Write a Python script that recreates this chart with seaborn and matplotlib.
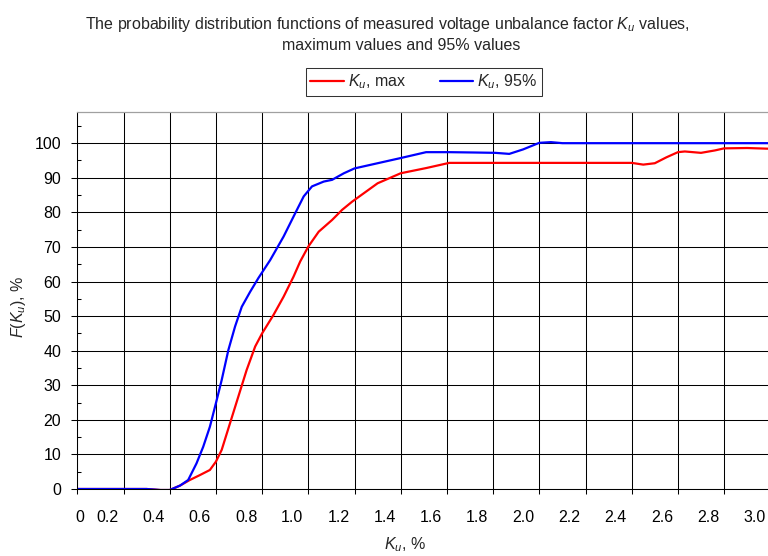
import numpy as np
import pandas as pd
import matplotlib
matplotlib.use("Agg")
import matplotlib.pyplot as plt
import seaborn as sns

# ---------------- data ----------------
title_line1 = "The probability distribution functions of measured voltage unbalance factor $K_u$ values,"
title_line2 = "maximum values and 95% values"
series_names = ["$K_u$, max", "$K_u$, 95%"]
series_colors = ["#ff0000", "#0000ff"]

# x positions measured in grid units (one vertical grid line every 0.2)
x_max = [0, 0.30, 0.36, 0.40, 0.445, 0.487, 0.53, 0.574, 0.60, 0.625, 0.661, 0.697,
         0.733, 0.77, 0.80, 0.849, 0.893, 0.936, 0.965, 1.0, 1.045, 1.103, 1.146,
         1.19, 1.30, 1.40, 1.51, 1.57, 1.61, 2.40, 2.45, 2.50, 2.55, 2.60, 2.63,
         2.70, 2.76, 2.80, 2.90, 2.99]
y_max = [0, 0, -0.3, -0.3, 1.0, 2.6, 4.0, 5.5, 7.9, 11.3, 19.0, 26.7,
         34.4, 41.2, 45.0, 50.3, 55.6, 61.4, 65.8, 70.1, 74.4, 77.8, 80.7,
         83.1, 88.4, 91.3, 92.8, 93.7, 94.3, 94.3, 93.8, 94.2, 95.9, 97.4, 97.6,
         97.2, 97.9, 98.5, 98.6, 98.4]

x_95 = [0, 0.30, 0.36, 0.40, 0.445, 0.48, 0.516, 0.545, 0.574, 0.60, 0.625, 0.654,
        0.683, 0.712, 0.748, 0.784, 0.835, 0.893, 0.943, 0.98, 1.016, 1.067, 1.103,
        1.154, 1.20, 1.30, 1.40, 1.51, 1.61, 1.72, 1.81, 1.87, 1.93, 2.00, 2.05,
        2.10, 2.99]
y_95 = [0, 0, -0.3, -0.3, 1.0, 2.6, 7.4, 12.2, 18.0, 24.8, 31.5, 40.2,
        47.0, 52.7, 57.0, 61.0, 66.2, 73.0, 79.7, 84.6, 87.5, 88.9, 89.4,
        91.3, 92.7, 94.2, 95.7, 97.4, 97.4, 97.3, 97.2, 96.9, 98.2, 100.1, 100.3,
        100.0, 100.0]

xtick_labels = ["0", "0.2", "0.4", "0.6", "0.8", "1.0", "1.2", "1.4", "1.6",
                "1.8", "2.0", "2.2", "2.4", "2.6", "2.8", "3.0"]
ytick_values = [0, 10, 20, 30, 40, 50, 60, 70, 80, 90, 100]
x_label = "$K_u$, %"
y_label = "$F$($K_u$), %"

# ---------------- styling ----------------
sns.set_theme(style="white")
plt.rcParams["font.family"] = ["Liberation Sans", "DejaVu Sans"]
plt.rcParams["mathtext.fontset"] = "custom"
plt.rcParams["mathtext.rm"] = "Liberation Sans"
plt.rcParams["mathtext.it"] = "Liberation Sans:italic"
plt.rcParams["mathtext.default"] = "it"
FS = 11.5

df = pd.concat([
    pd.DataFrame({"x": x_max, "y": y_max, "series": series_names[0]}),
    pd.DataFrame({"x": x_95, "y": y_95, "series": series_names[1]}),
], ignore_index=True)

W, H = 768, 556
fig = plt.figure(figsize=(W / 100, H / 100), dpi=100)
left_px, right_px, top_px, bot_px = 77.3, 768, 111.7, 489
ax = fig.add_axes([left_px / W, (H - bot_px) / H, (right_px - left_px) / W, (bot_px - top_px) / H])

sns.lineplot(data=df, x="x", y="y", hue="series", palette=series_colors,
             estimator=None, sort=False, linewidth=1.6, ax=ax, legend=False)

ax.set_xlim(0, 2.99)
ax.set_ylim(0, 109.1)

grid_x = np.arange(0, 2.81, 0.2)
ax.set_xticks(grid_x)
ax.set_xticklabels([])
label_pos = [0.012] + [0.2 * k - 0.069 for k in range(1, len(xtick_labels))]
ax.set_xticks(label_pos, minor=True)
ax.set_xticklabels(xtick_labels, minor=True, fontsize=FS)
ax.set_yticks(ytick_values)
ax.set_yticklabels([str(v) for v in ytick_values], fontsize=FS)
ax.set_yticks(np.arange(5, 106, 10), minor=True)

ax.tick_params(axis="x", which="major", direction="out", length=3.6, width=0.75,
               color="black", bottom=True)
ax.tick_params(axis="x", which="minor", length=0, pad=15, bottom=True)
ax.tick_params(axis="y", which="major", direction="out", length=4.3, width=0.75,
               color="black", pad=7.4, left=True)
ax.tick_params(axis="y", which="minor", direction="in", length=3, width=0.75,
               color="black", left=True)
ax.tick_params(colors="black", which="both")
ax.tick_params(axis="both", labelcolor="black")

ax.grid(True, which="major", color="black", linewidth=0.75)
ax.grid(False, which="minor")

for s in ["left", "bottom"]:
    ax.spines[s].set_color("black")
    ax.spines[s].set_linewidth(0.75)
ax.spines["top"].set_color("#a0a0a0")
ax.spines["top"].set_linewidth(0.9)
ax.spines["right"].set_visible(False)

ax.set_xlabel(x_label, fontsize=FS)
ax.set_ylabel(y_label, fontsize=FS)
ax.xaxis.set_label_coords((405 - left_px) / (right_px - left_px), (bot_px - 535) / (bot_px - top_px))
ax.yaxis.set_label_coords((28 - left_px) / (right_px - left_px), (bot_px - 307) / (bot_px - top_px))

fig.text(387 / W, 1 - 29 / H, title_line1, ha="center", va="baseline", fontsize=FS)
fig.text(401 / W, 1 - 50 / H, title_line2, ha="center", va="baseline", fontsize=FS)

handles = ax.get_lines()[:2]
leg = fig.legend(handles, series_names, loc="center", ncol=2,
                 bbox_to_anchor=((293.3 + 554) / 2 / W, 1 - 82 / H),
                 frameon=True, fancybox=False, shadow=False, fontsize=FS,
                 handlelength=2.1, handletextpad=0.25, columnspacing=2.1,
                 borderpad=0.3)
leg.get_frame().set_edgecolor("black")
leg.get_frame().set_linewidth(0.75)

fig.savefig("out.png", dpi=100)
